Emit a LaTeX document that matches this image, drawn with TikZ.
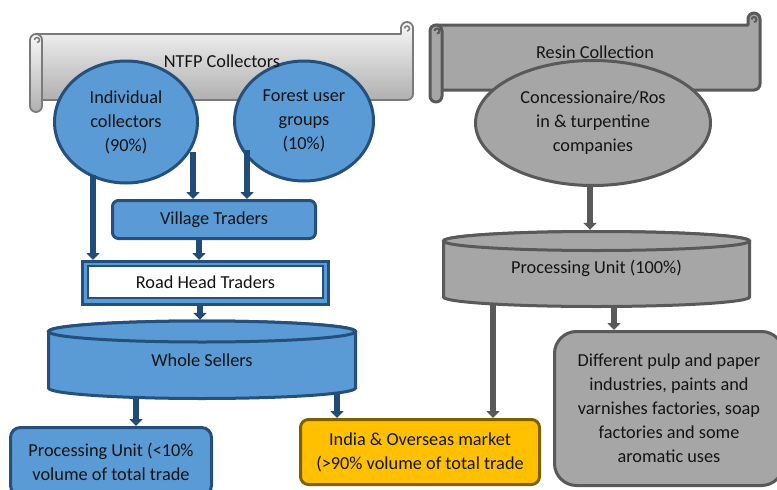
\documentclass[tikz,border=0pt]{standalone}
\usepackage{fontspec}
\setmainfont{Carlito}
\usetikzlibrary{shapes.geometric,arrows.meta,calc}
\definecolor{bluefill}{HTML}{5B9BD5}
\definecolor{blueline}{HTML}{25507D}
\definecolor{bluearrow}{HTML}{224C78}
\definecolor{greyfill}{HTML}{A6A6A6}
\definecolor{greyline}{HTML}{595959}
\definecolor{goldfill}{HTML}{FFC000}
\definecolor{goldline}{HTML}{7F6000}
\definecolor{scrollline}{HTML}{7A7A7A}
\definecolor{scrolltop}{HTML}{F7F7F7}
\definecolor{scrollbot}{HTML}{B0B0B0}
\definecolor{inkcol}{HTML}{141414}

\begin{document}
\begin{tikzpicture}[x=1pt,y=-1pt,
  every node/.style={font=\fontsize{18.3}{24}\selectfont, text=inkcol, align=center, inner sep=0pt},
  bluebox/.style={draw=blueline, fill=bluefill, line width=3pt, rounded corners=8pt},
  blueoval/.style={ellipse, draw=blueline, fill=bluefill, line width=3pt},
  greyoval/.style={ellipse, draw=greyline, fill=greyfill, line width=3pt},
  greybox/.style={draw=greyline, fill=greyfill, line width=3pt, rounded corners=22pt},
  goldbox/.style={draw=goldline, fill=goldfill, line width=3pt, rounded corners=8pt},
  bluearr/.style={draw=bluearrow, line width=6pt, -{Triangle[width=13pt,length=7pt]}},
  greyarr/.style={draw=greyline, line width=6pt, -{Triangle[width=13pt,length=7pt]}},
  lightscroll/.style={draw=scrollline, line width=1.8pt, top color=scrolltop, bottom color=scrollbot, line join=round},
  darkscroll/.style={draw=greyline, line width=3pt, fill=greyfill, line join=round},
  bluecyl/.style={draw=blueline, fill=bluefill, line width=3pt},
  greycyl/.style={draw=greyline, fill=greyfill, line width=3pt},
]
\useasboundingbox (0,0) rectangle (777,490);
\clip (0,0) rectangle (777,490);

% ---- left scroll banner (body + right roll, then left roll)
\path[lightscroll] (36,34) -- (401,34) -- (401,28) arc[start angle=180,end angle=360,radius=6]
  -- (413,94) arc[start angle=0,end angle=90,radius=6] -- (36,100) -- cycle;
\path[lightscroll] (30,40) -- (30,106) arc[start angle=180,end angle=0,radius=6]
  -- (42,40) arc[start angle=0,end angle=-180,radius=6] -- cycle;
\draw[scrollline, line width=1.5pt] (37,42.5) arc[start angle=90,end angle=-180,radius=2.5];
\draw[scrollline, line width=1.5pt] (407,31) arc[start angle=90,end angle=-180,radius=2.5];

% ---- right scroll banner
\path[darkscroll] (436,25) -- (748,25) -- (748,19) arc[start angle=180,end angle=360,radius=6]
  -- (760,84) arc[start angle=0,end angle=90,radius=6] -- (436,90) -- cycle;
\path[darkscroll] (430,31) -- (430,96) arc[start angle=180,end angle=0,radius=6]
  -- (442,31) arc[start angle=0,end angle=-180,radius=6] -- cycle;
\draw[greyline, line width=2pt] (437,33.5) arc[start angle=90,end angle=-180,radius=2.5];
\draw[greyline, line width=2pt] (754,22) arc[start angle=90,end angle=-180,radius=2.5];

% ---- collector groups
\node[blueoval, minimum width=143pt, minimum height=122pt] (ind) at (126,122) {Individual\\collectors\\(90\%)};
\node[blueoval, minimum width=139pt, minimum height=120pt] (fug) at (304,121) {Forest user\\groups\\(10\%)};
\node[greyoval, minimum width=235pt, minimum height=125pt] (con) at (593,123) {Concessionaire/Ros\\in \& turpentine\\companies};

\node (ntfp) at (222,61) {NTFP Collectors};
\node (resin) at (595,52) {Resin Collection};

% ---- traders
\node[bluebox, rounded corners=6pt, minimum width=203pt, minimum height=38pt] (vt) at (214,219.5) {Village Traders};
\node[draw=blueline, fill=bluefill, line width=3pt, minimum width=246pt, minimum height=43pt] (rht) at (205.5,283) {};
\node[draw=blueline, fill=white, line width=2pt, minimum width=235pt, minimum height=32pt] (rhtin) at (205.5,282) {Road Head Traders};

% ---- frames of the two cylinders (drawn further down)
\node[minimum width=310pt, minimum height=80pt] (ws) at (202,360) {};
\node[minimum width=309pt, minimum height=78pt] (pu2) at (596.5,269) {};

% ---- end points of the trade
\node[bluebox, rounded corners=10pt, minimum width=201pt, minimum height=68pt] (pu1) at (111,461.5) {Processing Unit (<10\%\\volume of total trade};
\node[goldbox, minimum width=239pt, minimum height=65pt] (mkt) at (420,452) {India \& Overseas market\\(>90\% volume of total trade};
\node[greybox, minimum width=229pt, minimum height=154pt] (diff) at (669,408.5) {Different pulp and paper\\industries, paints and\\varnishes factories, soap\\factories and some\\aromatic uses};

% ---- arrow columns
\coordinate (indL) at ($(ind.center)+(-33,53)$);
\coordinate (indR) at ($(ind.center)+(67,30)$);
\coordinate (fugL) at ($(fug.center)+(-57,29)$);
\coordinate (conB) at ($(con.center)+(-3,62)$);
\coordinate (xvt) at (199,0);
\coordinate (xrh) at (200,0);
\coordinate (xwa) at (136,0);
\coordinate (xwb) at (337,0);
\coordinate (xpa) at (493,0);
\coordinate (xpb) at (614,0);

\draw[bluearr] (indL) -- (indL |- rht.north);
\draw[bluearr] (indR) -- (indR |- vt.north);
\draw[bluearr] (fugL) -- (fugL |- vt.north);
\draw[bluearr] (vt.south -| xvt) -- (rht.north -| xvt);

% arrows leaving the cylinders start underneath them
\draw[bluearr] (ws.center -| xwa) -- (pu1.north -| xwa);
\draw[bluearr] (ws.center -| xwb) -- (mkt.north -| xwb);
\draw[greyarr] (pu2.center -| xpa) -- (mkt.north -| xpa);
\draw[greyarr] (pu2.center -| xpb) -- (diff.north -| xpb);

% ---- Whole Sellers cylinder
\path[bluecyl] (48.5,331.5) -- (48.5,388) arc[start angle=180,end angle=0,x radius=153.5,y radius=10.5]
  -- (355.5,331.5) arc[start angle=0,end angle=-180,x radius=153.5,y radius=10.5] -- cycle;
\draw[bluecyl] (202,331.5) ellipse[x radius=153.5,y radius=10.5];
\node (wslabel) at (202,360) {Whole Sellers};

% ---- resin processing cylinder
\path[greycyl] (443.5,241) -- (443.5,297) arc[start angle=180,end angle=0,x radius=153,y radius=9.5]
  -- (749.5,241) arc[start angle=0,end angle=-180,x radius=153,y radius=9.5] -- cycle;
\draw[greycyl] (596.5,241) ellipse[x radius=153,y radius=9.5];
\node (pu2label) at (596.5,268) {Processing Unit (100\%)};

% ---- arrows entering the cylinders
\draw[bluearr] (rht.south -| xrh) -- (ws.north -| xrh);
\draw[greyarr] (conB) -- (conB |- pu2.north);
\end{tikzpicture}
\end{document}
